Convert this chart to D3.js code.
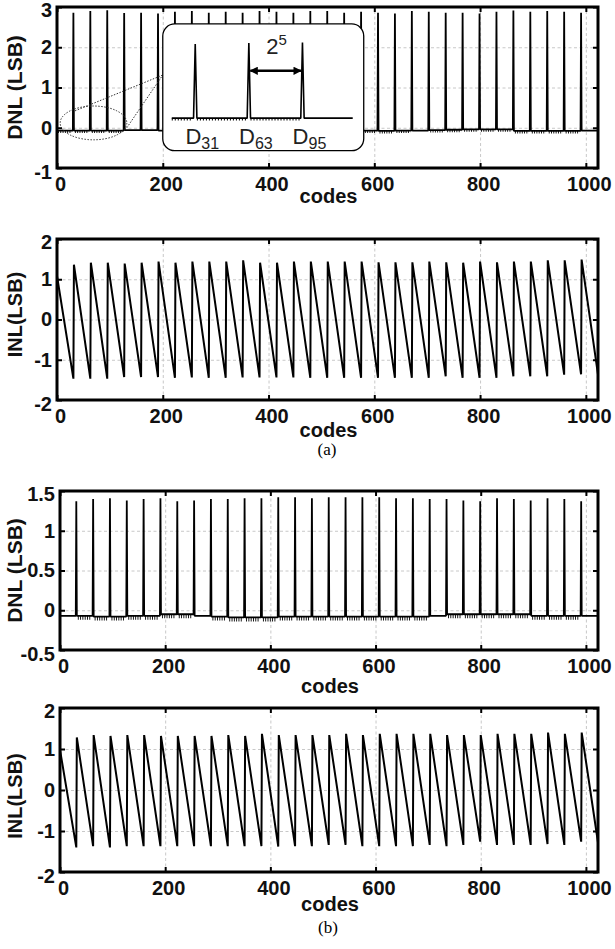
<!DOCTYPE html>
<html><head><meta charset="utf-8">
<script src="https://cdn.jsdelivr.net/npm/d3@7"></script>
<style>body{margin:0;background:#fff}svg{display:block}</style>
</head><body>
<svg id="c" width="615" height="949"></svg>
<script>
// ---------------- data ----------------
const codeMax = 1023;
const xTicks = [0, 200, 400, 600, 800, 1000];
const dnlTicksA = [-1, 0, 1, 2, 3];
const inlTicks = [-2, -1, 0, 1, 2];
const dnlTicksB = [-0.5, 0, 0.5, 1, 1.5];
const spikeCodes = [31,63,95,127,159,191,223,255,287,319,351,383,415,447,479,511,543,575,607,639,671,703,735,767,799,831,863,895,927,959,991];

// (a) DNL
const dnlSpikeA = [2.86,2.90,2.92,2.85,2.86,2.84,2.88,2.90,2.86,2.88,2.86,2.90,2.88,2.86,2.90,2.90,2.86,2.88,2.86,2.84,2.90,2.88,2.86,2.86,2.84,2.88,2.91,2.88,2.90,2.88,2.86];
const dnlBaseA = [-0.07,-0.07,-0.07,-0.07,-0.06,-0.06,-0.07,-0.07,-0.07,-0.07,-0.07,-0.07,-0.07,-0.07,-0.07,-0.07,-0.07,-0.07,-0.07,-0.08,-0.07,-0.07,-0.06,-0.05,-0.04,-0.04,-0.04,-0.08,-0.08,-0.08,-0.08,-0.07];
const dnlNoiseA = [0.06,0.06,0.06,0.06,0,0,0,0,0,0,0,0,0,0,0,0,0,0,0.06,0.06,0.06,0,0.06,0.06,0.06,0.06,0.06,0.06,0.06,0.06,0.06,0];
// (a) INL
const inlStartA = 1.08;
const inlPeakA = [1.36,1.41,1.41,1.39,1.41,1.44,1.41,1.44,1.44,1.44,1.47,1.41,1.41,1.44,1.44,1.44,1.44,1.44,1.42,1.42,1.42,1.44,1.42,1.41,1.44,1.42,1.44,1.44,1.47,1.47,1.49];
const inlMinA = [-1.47,-1.47,-1.47,-1.43,-1.43,-1.43,-1.45,-1.44,-1.45,-1.45,-1.44,-1.44,-1.44,-1.44,-1.45,-1.45,-1.45,-1.45,-1.45,-1.45,-1.45,-1.45,-1.41,-1.45,-1.45,-1.45,-1.41,-1.41,-1.41,-1.37,-1.36,-1.37];

// (b) DNL
const dnlSpikeB = [1.37,1.40,1.41,1.38,1.40,1.41,1.37,1.38,1.40,1.40,1.41,1.41,1.42,1.42,1.41,1.42,1.42,1.42,1.42,1.41,1.41,1.40,1.40,1.38,1.37,1.41,1.40,1.38,1.41,1.40,1.37];
const dnlBaseB = [-0.07,-0.07,-0.08,-0.08,-0.07,-0.07,-0.05,-0.05,-0.07,-0.08,-0.09,-0.09,-0.09,-0.08,-0.08,-0.08,-0.08,-0.08,-0.08,-0.08,-0.08,-0.08,-0.07,-0.05,-0.05,-0.05,-0.05,-0.05,-0.07,-0.07,-0.07,-0.07];
const dnlNoiseB = [0,0.05,0.05,0.05,0.05,0.05,0.05,0.05,0,0.05,0.05,0.05,0.05,0.05,0.05,0.05,0.05,0.05,0.05,0.05,0.05,0.05,0,0.05,0.05,0.05,0.05,0.05,0.05,0.05,0.05,0];
// (b) INL
const inlStartB = 0.98;
const inlPeakB = [1.28,1.34,1.32,1.34,1.34,1.32,1.32,1.32,1.32,1.34,1.32,1.37,1.34,1.34,1.34,1.34,1.37,1.34,1.37,1.37,1.37,1.37,1.34,1.34,1.34,1.37,1.37,1.37,1.40,1.37,1.40];
const inlMinB = [-1.40,-1.37,-1.40,-1.37,-1.37,-1.37,-1.37,-1.37,-1.37,-1.37,-1.37,-1.37,-1.38,-1.37,-1.37,-1.34,-1.34,-1.37,-1.37,-1.37,-1.37,-1.34,-1.37,-1.34,-1.26,-1.34,-1.34,-1.34,-1.32,-1.34,-1.26,-1.28];

// inset annotation (data units of panel a DNL)
const insetCodeRange = [200, 580];
const insetValueRange = [-0.57, 2.58];
const insetZoomCodes = [17, 125];
const insetLabelCodes = [31, 63, 95];
const ellipseCenter = [69, 0.12];
const ellipseRadii = [63, 0.42];
const calloutFrom = [[34, 0.42], [132, 0.0]];
const calloutTo = [200, 1.31];

// ---------------- helpers ----------------
const SANS = '"Liberation Sans", Arial, Helvetica, sans-serif';
const SERIF = '"Liberation Serif", "Times New Roman", serif';
const svg = d3.select('#c');
const fmt = d => String(d);

function segBounds(k) {
  const s = k === 0 ? 0 : spikeCodes[k - 1] + 1;
  const e = k < spikeCodes.length ? spikeCodes[k] - 1 : codeMax;
  return [s, e];
}
function dnlPoints(spikes, base) {
  const pts = [];
  for (let k = 0; k < base.length; k++) {
    const [s, e] = segBounds(k);
    pts.push([s, base[k]]);
    pts.push([e, base[k]]);
    if (k < spikes.length) pts.push([spikeCodes[k], spikes[k]]);
  }
  return pts;
}
function inlPoints(start, peaks, mins) {
  const pts = [[0, start]];
  for (let i = 0; i < spikeCodes.length; i++) {
    pts.push([spikeCodes[i], mins[i]]);
    pts.push([spikeCodes[i] + 1, peaks[i]]);
  }
  pts.push([codeMax, mins[mins.length - 1]]);
  return pts;
}

function drawPanel(cfg) {
  const x = d3.scaleLinear().domain([0, codeMax]).range([cfg.left, cfg.right]);
  const y = d3.scaleLinear().domain(d3.extent(cfg.yTicks)).range([cfg.bottom, cfg.top]);
  const g = svg.append('g');
  const h = cfg.bottom - cfg.top, w = cfg.right - cfg.left;
  // grid
  g.append('g').attr('transform', `translate(0,${cfg.bottom})`)
    .call(d3.axisBottom(x).tickValues(xTicks).tickSize(-h).tickFormat(''))
    .call(s => { s.select('.domain').remove(); s.selectAll('line').attr('stroke', '#c8c8c8').attr('stroke-width', 1).attr('stroke-dasharray', '3,2.5'); });
  g.append('g').attr('transform', `translate(${cfg.left},0)`)
    .call(d3.axisLeft(y).tickValues(cfg.yTicks).tickSize(-w).tickFormat(''))
    .call(s => { s.select('.domain').remove(); s.selectAll('line').attr('stroke', '#c8c8c8').attr('stroke-width', 1).attr('stroke-dasharray', '3,2.5'); });

  cfg.draw(g, x, y);

  // frame
  g.append('rect').attr('x', cfg.left).attr('y', cfg.top).attr('width', w).attr('height', h)
    .attr('fill', 'none').attr('stroke', '#000').attr('stroke-width', 3);
  // inward ticks + labels
  const styleAx = s => { s.select('.domain').remove(); s.selectAll('line').attr('stroke', '#000').attr('stroke-width', 2);
    s.selectAll('text').attr('font-family', SANS).attr('font-weight', 'bold').attr('font-size', 20).attr('fill', '#111'); };
  g.append('g').attr('transform', `translate(0,${cfg.bottom})`)
    .call(d3.axisBottom(x).tickValues(xTicks).tickSize(-5).tickPadding(9).tickFormat(fmt)).call(styleAx)
    .call(s => s.selectAll('text').attr('dx', 3));
  g.append('g').attr('transform', `translate(0,${cfg.top})`)
    .call(d3.axisTop(x).tickValues(xTicks).tickSize(-5).tickFormat('')).call(styleAx);
  const yAx = g.append('g').attr('transform', `translate(${cfg.left},0)`)
    .call(d3.axisLeft(y).tickValues(cfg.yTicks).tickSize(-5).tickPadding(5).tickFormat(fmt)).call(styleAx);
  // keep the top/bottom labels inside the picture like the reference
  yAx.selectAll('.tick').filter(d => d === cfg.yTicks[cfg.yTicks.length - 1]).select('text').attr('dy', '0.45em');
  yAx.selectAll('.tick').filter(d => d === cfg.yTicks[0]).select('text').attr('dy', '0.5em');
  g.append('g').attr('transform', `translate(${cfg.right},0)`)
    .call(d3.axisRight(y).tickValues(cfg.yTicks).tickSize(-5).tickFormat('')).call(styleAx);
  // axis titles
  g.append('text').attr('x', (cfg.left + cfg.right) / 2 + 1).attr('y', cfg.xLabelY)
    .attr('text-anchor', 'middle').attr('font-family', SANS).attr('font-weight', 'bold').attr('font-size', 20).attr('fill', '#111').text('codes');
  g.append('text').attr('transform', `translate(22,${(cfg.top + cfg.bottom) / 2 + (cfg.yLabelShift || 0)}) rotate(-90)`)
    .attr('text-anchor', 'middle').attr('font-family', SANS).attr('font-weight', 'bold').attr('fill', '#111')
    .attr('font-size', cfg.yLabelSize).text(cfg.yLabel);
  return { x, y, g };
}

function drawDnl(spikes, base, noise) {
  return (g, x, y) => {
    const line = d3.line().x(d => x(d[0])).y(d => y(d[1]));
    g.append('path').datum(dnlPoints(spikes, base)).attr('d', line)
      .attr('fill', 'none').attr('stroke', '#000').attr('stroke-width', 1.8).attr('stroke-linejoin', 'bevel');
    base.forEach((b, k) => {
      if (!noise[k]) return;
      const [s, e] = segBounds(k);
      const hpx = y(b - noise[k]) - y(b);
      g.append('line').attr('x1', x(s) + 1).attr('x2', x(e) - 1)
        .attr('y1', y(b) + hpx / 2).attr('y2', y(b) + hpx / 2)
        .attr('stroke', '#000').attr('stroke-width', hpx).attr('stroke-dasharray', '0.9,1.4');
    });
  };
}
function drawInl(start, peaks, mins) {
  return (g, x, y) => {
    const line = d3.line().x(d => x(d[0])).y(d => y(d[1]));
    g.append('path').datum(inlPoints(start, peaks, mins)).attr('d', line)
      .attr('fill', 'none').attr('stroke', '#000').attr('stroke-width', 2).attr('stroke-linejoin', 'miter');
  };
}

// ---------------- panels ----------------
const pA = drawPanel({ left: 57, right: 598, top: 7, bottom: 168, yTicks: dnlTicksA, xLabelY: 203,
  yLabel: 'DNL (LSB)', yLabelSize: 21, draw: drawDnl(dnlSpikeA, dnlBaseA, dnlNoiseA) });
drawPanel({ left: 57, right: 598, top: 239, bottom: 400, yTicks: inlTicks, xLabelY: 437,
  yLabel: 'INL(LSB)', yLabelSize: 20, yLabelShift: -5, draw: drawInl(inlStartA, inlPeakA, inlMinA) });
drawPanel({ left: 60, right: 598, top: 491, bottom: 650, yTicks: dnlTicksB, xLabelY: 693,
  yLabel: 'DNL (LSB)', yLabelSize: 21, draw: drawDnl(dnlSpikeB, dnlBaseB, dnlNoiseB) });
drawPanel({ left: 60, right: 598, top: 708, bottom: 872, yTicks: inlTicks, xLabelY: 911,
  yLabel: 'INL(LSB)', yLabelSize: 20, yLabelShift: 6, draw: drawInl(inlStartB, inlPeakB, inlMinB) });

svg.append('text').attr('x', 327).attr('y', 455).attr('text-anchor', 'middle')
  .attr('font-family', SERIF).attr('font-size', 17).text('(a)');
svg.append('text').attr('x', 328).attr('y', 933).attr('text-anchor', 'middle')
  .attr('font-family', SERIF).attr('font-size', 17).text('(b)');

// ---------------- inset annotation on panel (a) ----------------
(function () {
  const { x, y, g } = pA;
  const dot = s => s.attr('fill', 'none').attr('stroke', '#333').attr('stroke-width', 1).attr('stroke-dasharray', '1.5,1.5');
  g.append('ellipse').attr('cx', x(ellipseCenter[0])).attr('cy', y(ellipseCenter[1]))
    .attr('rx', x(ellipseCenter[0] + ellipseRadii[0]) - x(ellipseCenter[0]))
    .attr('ry', y(ellipseCenter[1] - ellipseRadii[1]) - y(ellipseCenter[1])).call(dot);
  calloutFrom.forEach(p => g.append('line').attr('x1', x(p[0])).attr('y1', y(p[1]))
    .attr('x2', x(calloutTo[0])).attr('y2', y(calloutTo[1])).call(dot));

  const bx0 = x(insetCodeRange[0]), bx1 = x(insetCodeRange[1]);
  const by0 = y(insetValueRange[1]), by1 = y(insetValueRange[0]);
  g.append('rect').attr('x', bx0).attr('y', by0).attr('width', bx1 - bx0).attr('height', by1 - by0)
    .attr('rx', 12).attr('fill', '#fff').attr('stroke', '#000').attr('stroke-width', 1.3);

  const ix = d3.scaleLinear().domain(insetZoomCodes).range([bx0 + 9, bx1 - 11]);
  const iy = d3.scaleLinear().domain([-0.1, 3]).range([by0 + 95, by0 + 16.5]);
  const all = dnlPoints(dnlSpikeA, dnlBaseA);
  const pts = [[insetZoomCodes[0], dnlBaseA[0]]]
    .concat(all.filter(d => d[0] > insetZoomCodes[0] && d[0] < insetZoomCodes[1]))
    .concat([[insetZoomCodes[1], dnlBaseA[3]]]);
  g.append('path').datum(pts).attr('d', d3.line().x(d => ix(d[0])).y(d => iy(d[1])))
    .attr('fill', 'none').attr('stroke', '#000').attr('stroke-width', 1.6).attr('stroke-linejoin', 'bevel');
  [0, 1, 2].forEach(k => {
    const [s, e] = segBounds(k);
    const s2 = Math.max(s, insetZoomCodes[0]);
    g.append('line').attr('x1', ix(s2)).attr('x2', ix(e) - 1).attr('y1', iy(dnlBaseA[k]) + 1.2).attr('y2', iy(dnlBaseA[k]) + 1.2)
      .attr('stroke', '#000').attr('stroke-width', 2.2).attr('stroke-dasharray', '1,2');
  });
  insetLabelCodes.forEach(c => {
    const t = g.append('text').attr('x', ix(c) + 7).attr('y', by1 - 7).attr('text-anchor', 'middle')
      .attr('font-family', SANS).attr('font-size', 22).attr('fill', '#222');
    t.append('tspan').text('D');
    t.append('tspan').attr('dy', 5).attr('font-size', 16).text(String(c));
  });
  const defs = svg.append('defs');
  defs.append('marker').attr('id', 'ah').attr('viewBox', '0 -5 10 10').attr('refX', 9).attr('refY', 0)
    .attr('markerWidth', 3.2).attr('markerHeight', 3.2).attr('orient', 'auto-start-reverse')
    .append('path').attr('d', 'M0,-5L10,0L0,5Z').attr('fill', '#000');
  const ay = iy(1.8);
  g.append('line').attr('x1', ix(insetLabelCodes[1]) + 1.5).attr('x2', ix(insetLabelCodes[2]) - 1.5)
    .attr('y1', ay).attr('y2', ay).attr('stroke', '#000').attr('stroke-width', 2.6)
    .attr('marker-start', 'url(#ah)').attr('marker-end', 'url(#ah)');
  const tt = g.append('text').attr('x', (ix(insetLabelCodes[1]) + ix(insetLabelCodes[2])) / 2 + 1)
    .attr('y', iy(2.45)).attr('text-anchor', 'middle').attr('font-family', SANS).attr('font-size', 22).attr('fill', '#222');
  tt.append('tspan').text('2');
  tt.append('tspan').attr('dy', -9).attr('font-size', 15).text('5');
})();
</script>
</body></html>
